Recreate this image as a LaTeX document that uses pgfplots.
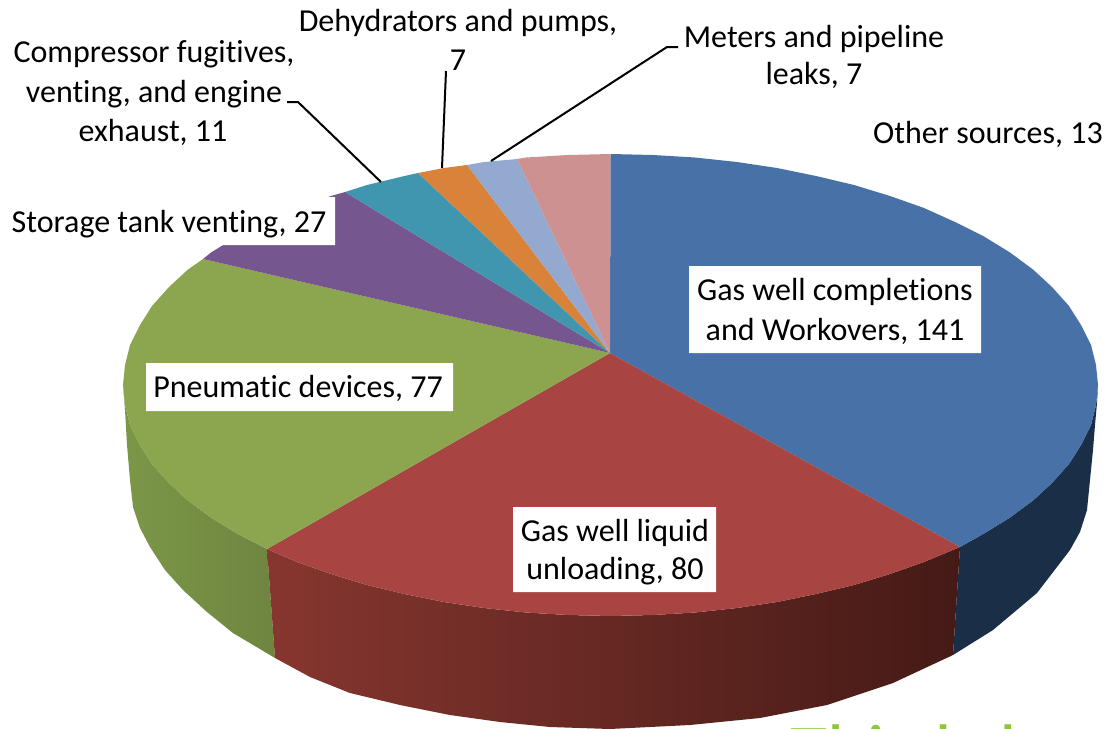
\documentclass[border=0pt]{standalone}
\usepackage{fontspec}
\setmainfont[Ligatures=CommonOff]{Carlito}
\usepackage{pgfplots}
\pgfplotsset{compat=1.18}
\definecolor{cblue}{HTML}{4771A7}
\definecolor{cred}{HTML}{A84442}
\definecolor{cgreen}{HTML}{8BA64E}
\definecolor{cpurple}{HTML}{75568F}
\definecolor{cteal}{HTML}{4096AE}
\definecolor{corange}{HTML}{D9833A}
\definecolor{clblue}{HTML}{93A9D0}
\definecolor{cpink}{HTML}{CD9191}
\definecolor{cside}{HTML}{1A2E48}
\definecolor{gl}{HTML}{7C9748}
\definecolor{gr}{HTML}{6E853F}
\definecolor{rl}{HTML}{86362F}
\definecolor{rm}{HTML}{642A28}
\definecolor{rr}{HTML}{451A16}
\definecolor{clogo}{HTML}{8CC63F}
\newcommand{\lbl}[3]{\node[anchor=base,inner sep=0pt,text=black,font=\fontsize{32}{38}\selectfont] at (axis cs:#1,#2) {#3};}
\begin{document}
\begin{tikzpicture}
\begin{axis}[
  scale only axis, width=1108pt, height=728pt,
  xmin=0, xmax=1108, ymin=0, ymax=728, y dir=reverse,
  hide axis, clip=true, no markers]
% side walls
\addplot[draw=none, fill=cside] coordinates {(1098,385)(1097,403)(1095,425)(1093,450)(1087,510)(1080,532)(1070,550)(1037,593)(993,630)(953,655)(960,547)(984,533.5)(1010,517.5)(1033,500.5)(1052,483)(1069,464)(1081,445)(1091,425)(1096,405)(1098,385)};
\addplot[draw=none, left color=gl, right color=gr] coordinates {(123,385)(125,410)(127,445)(130,480)(133,507)(140,528)(150,547)(165,570)(183,590)(207,612)(233,633)(275,658)(267,549)(237,533.5)(211,517.5)(188,500.5)(169,483)(152,464)(140,445)(130,425)(125,405)(123,385)};
\addplot[draw=none, left color=rl, middle color=rm, right color=rr] coordinates {(267,549)(275,658)(310,677)(350,693)(400,705)(450,715)(500,722)(550,727)(610,729)(690,725)(760,718)(827,705)(893,683)(953,655)(960,547)(924,562)(890,574)(854,585)(816,594)(777,602)(737,608)(695,612.5)(653,615)(610.5,616)(568,615)(526,612.5)(484,608)(444,602)(404.5,594)(367,585)(331,574)(297,562)(267,549)};
% top slices
\addplot[draw=none, fill=cblue] coordinates {(610,353)(610.5,154)(653,155)(695,157.5)(737,162)(777,168)(816,176)(854,185)(890,196)(924,208)(955,222)(984,236.5)(1010,252.5)(1033,269.5)(1052,287)(1069,306)(1081,325)(1091,345)(1096,365)(1098,385)(1096,405)(1091,425)(1081,445)(1069,464)(1052,483)(1033,500.5)(1010,517.5)(984,533.5)(960,547)(610,353)};
\addplot[draw=none, fill=cred] coordinates {(610,353)(960,547)(924,562)(890,574)(854,585)(816,594)(777,602)(737,608)(695,612.5)(653,615)(610.5,616)(568,615)(526,612.5)(484,608)(444,602)(404.5,594)(367,585)(331,574)(297,562)(267,549)(610,353)};
\addplot[draw=none, fill=cgreen] coordinates {(610,353)(267,549)(237,533.5)(211,517.5)(188,500.5)(169,483)(152,464)(140,445)(130,425)(125,405)(123,385)(125,365)(130,345)(140,325)(152,306)(169,287)(188,269.5)(203,259)(610,353)};
\addplot[draw=none, fill=cpurple] coordinates {(610,353)(203,259)(211,252.5)(237,236.5)(266,222)(297,208)(331,196)(345,192)(610,353)};
\addplot[draw=none, fill=cteal] coordinates {(610,353)(345,192)(367,185)(404.5,176)(418,173)(610,353)};
\addplot[draw=none, fill=corange] coordinates {(610,353)(418,173)(444,168)(467,165)(610,353)};
\addplot[draw=none, fill=clblue] coordinates {(610,353)(467,165)(484,162)(517,159)(610,353)};
\addplot[draw=none, fill=cpink] coordinates {(610,353)(517,159)(526,157.5)(568,155)(610.5,154)(610,353)};
% label backgrounds
\addplot[draw=none, fill=white] coordinates {(0,197)(335,197)(335,245)(0,245)(0,197)};
\addplot[draw=none, fill=white] coordinates {(689,266)(981,266)(981,353)(689,353)(689,266)};
\addplot[draw=none, fill=white] coordinates {(146,363)(453,363)(453,411)(146,411)(146,363)};
\addplot[draw=none, fill=white] coordinates {(513,507)(716,507)(716,592)(513,592)(513,507)};
% leader lines
\addplot[black, line width=2pt] coordinates {(287,102)(298,102)(381,182)};
\addplot[black, line width=2pt] coordinates {(446,71)(442,168)};
\addplot[black, line width=2pt] coordinates {(678,47)(667,47)(491,161)};
% labels
\lbl{458}{31}{Dehydrators and pumps,}
\lbl{458}{70}{7}
\lbl{154}{62}{Compressor fugitives,}
\lbl{154}{102}{venting, and engine}
\lbl{153}{141}{exhaust, 11}
\lbl{169}{232}{Storage tank venting, 27}
\lbl{814}{47}{Meters and pipeline}
\lbl{814}{84}{leaks, 7}
\lbl{988}{143}{Other sources, 13}
\lbl{835}{300}{Gas well completions}
\lbl{835}{340}{and Workovers, 141}
\lbl{298}{397}{Pneumatic devices, 77}
\lbl{615}{541}{Gas well liquid}
\lbl{615}{579}{unloading, 80}
\begin{scope}
\clip (axis cs:0,0) rectangle (axis cs:1108,728);
\node[overlay,anchor=base west,inner sep=0pt,text=clogo,font=\fontsize{76}{80}\selectfont] at (axis cs:790,777) {Thin\kern 11pt k\kern 30pt l};
\end{scope}
\end{axis}
\end{tikzpicture}
\end{document}
